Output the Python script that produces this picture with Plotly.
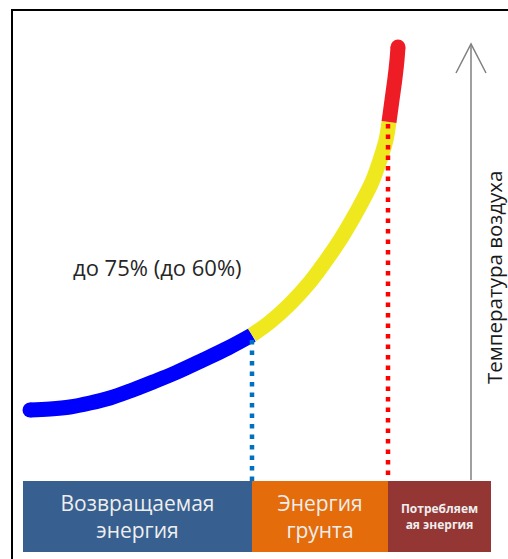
import plotly.graph_objects as go

# Curve of energy vs. air temperature (schematic coordinates)
blue_x = [30, 50, 70, 90, 110, 130, 153, 175, 203, 228, 252]
blue_y = [410, 409, 407, 403, 398, 391, 382, 373, 360, 348, 335]
yellow_x = [252, 270, 290, 310, 325, 340, 352, 363, 372, 380, 386, 389]
yellow_y = [335, 322, 304, 282, 262, 240, 220, 200, 182, 160, 140, 122]
red_x = [389, 392, 395, 397, 398]
red_y = [122, 100, 78, 60, 47]

# Dotted guide lines
guide_x = [252, 388]
guide_top = [340, 124]
guide_colors = ["#0070C0", "#FF0000"]

# Energy segments along the bottom
seg_labels = ["Возвращаемая<br>энергия", "Энергия<br>грунта", "<b>Потребляем<br>ая энергия</b>"]
seg_starts = [23, 252, 388]
seg_widths = [229, 136, 103]
seg_colors = ["#375F8F", "#E46C0A", "#943634"]
seg_font_sizes = [21, 21, 12]
seg_y0, seg_y1 = 481, 552

fig = go.Figure()

for xs, ys, c in [(blue_x, blue_y, "#0000FF"), (yellow_x, yellow_y, "#F0E81E"), (red_x, red_y, "#EE1C25")]:
    fig.add_trace(go.Scatter(x=xs, y=ys, mode="lines",
                             line=dict(color=c, width=15, shape="spline", smoothing=1),
                             hoverinfo="skip"))
# round caps
fig.add_trace(go.Scatter(x=[blue_x[0]], y=[blue_y[0]], mode="markers",
                         marker=dict(color="#0000FF", size=15), hoverinfo="skip"))
fig.add_trace(go.Scatter(x=[red_x[-1]], y=[red_y[-1]], mode="markers",
                         marker=dict(color="#EE1C25", size=15), hoverinfo="skip"))

for gx, gt, gc in zip(guide_x, guide_top, guide_colors):
    fig.add_trace(go.Scatter(x=[gx, gx], y=[gt, seg_y0], mode="lines",
                             line=dict(color=gc, width=4.5, dash="4.5px,6px"), hoverinfo="skip"))

fig.add_trace(go.Bar(
    x=seg_widths, base=seg_starts, y=[(seg_y0 + seg_y1) / 2] * 3, width=seg_y1 - seg_y0,
    orientation="h", marker=dict(color=seg_colors, line=dict(width=0)),
    text=seg_labels, textposition="inside", insidetextanchor="middle",
    textfont=dict(color="#EEEEEE", size=seg_font_sizes, family="Open Sans"),
    hoverinfo="skip",
))

# temperature arrow
fig.add_shape(type="line", x0=471, y0=480, x1=471, y1=44, line=dict(color="#808080", width=1.5))
fig.add_shape(type="path", path="M 456 73 L 471 44 L 486 73", line=dict(color="#808080", width=1.5))

# frame
fig.add_shape(type="path", path="M 12 559 L 12 10 L 508 10", line=dict(color="black", width=2))

fig.add_annotation(x=157, y=267, text="до 75% (до 60%)", showarrow=False,
                   font=dict(size=22, color="#262626", family="Open Sans"))
fig.add_annotation(x=494, y=278, text="Температура воздуха", showarrow=False, textangle=-90,
                   font=dict(size=20.5, color="#1a1a1a", family="Open Sans"))

fig.update_layout(
    width=508, height=559, margin=dict(l=0, r=0, t=0, b=0),
    showlegend=False, plot_bgcolor="white", paper_bgcolor="white", bargap=0,
    xaxis=dict(range=[0, 508], visible=False, fixedrange=True),
    yaxis=dict(range=[559, 0], visible=False, fixedrange=True),
)

fig.write_html("out.html", config={"displayModeBar": False},
               post_script="document.body.style.margin='0px';document.body.style.overflow='hidden';")
